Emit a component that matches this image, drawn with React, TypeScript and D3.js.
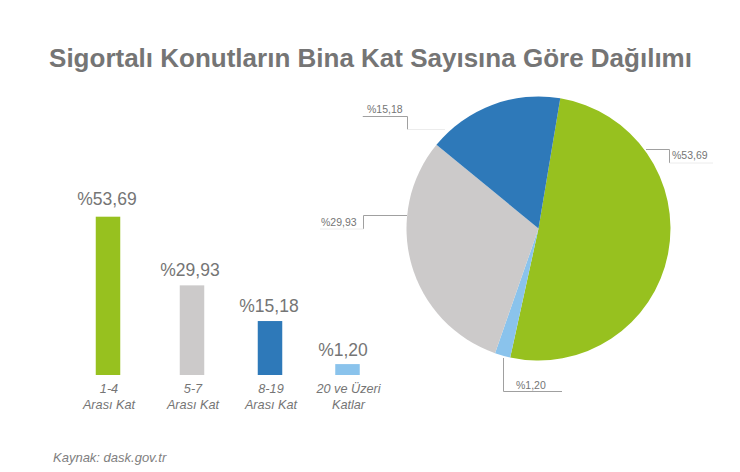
import React from "react";
import * as d3 from "d3";

const categories = ["1-4", "5-7", "8-19", "20 ve Üzeri"];
const categorySub = ["Arası Kat", "Arası Kat", "Arası Kat", "Katlar"];
const barLabels = ["%53,69", "%29,93", "%15,18", "%1,20"];
// the bars in the picture are not strictly to scale, so these are read off it
const barValues = [53.69, 30.4, 18.3, 3.7];
const barColors = ["#97c11f", "#cccaca", "#2e79b9", "#8ac3ec"];

// slice shares as drawn in the picture, clockwise from the green one
const pieNames = ["1-4", "20 ve Üzeri", "5-7", "8-19"];
const pieShares = [50.8, 1.9, 30.6, 16.7];
const pieColors = ["#97c11f", "#8ac3ec", "#cccaca", "#2e79b9"];

const width = 740;
const height = 472;
const font = "'Liberation Sans', Arial, sans-serif";
const textColor = "#757575";

const App: React.FC = () => {
  const x = d3
    .scaleOrdinal<string, number>()
    .domain(categories)
    .range([108, 192, 270, 347.5]);
  const y = d3.scaleLinear().domain([0, 53.69]).range([375, 216.7]);
  const barWidth = 24.5;
  const labelGap = [11.5, 9, 9, 8.5];

  const pie = d3
    .pie<number>()
    .sort(null)
    .startAngle((9.5 * Math.PI) / 180)
    .endAngle((369.5 * Math.PI) / 180);
  const arc = d3.arc<d3.PieArcDatum<number>>().innerRadius(0).outerRadius(132);
  const slices = pie(pieShares);

  const leader = "#a0a0a0";
  const faint = "#ececec";

  return (
    <svg
      width={width}
      height={height}
      style={{ position: "absolute", left: 0, top: 0, background: "#fff", fontFamily: font }}
    >
      <text x={370.5} y={67} textAnchor="middle" fontSize={26} fontWeight="bold" fill="#757575">
        Sigortalı Konutların Bina Kat Sayısına Göre Dağılımı
      </text>

      {categories.map((c, i) => (
        <g key={c}>
          <rect
            x={x(c) - barWidth / 2}
            y={y(barValues[i])}
            width={barWidth}
            height={y(0) - y(barValues[i])}
            fill={barColors[i]}
          />
          <text
            x={x(c) - (i === 3 ? 4.5 : i === 1 ? 2 : 1)}
            y={y(barValues[i]) - labelGap[i]}
            textAnchor="middle"
            fontSize={17.5}
            fill={textColor}
          >
            {barLabels[i]}
          </text>
          <text x={x(c) + 1} y={393} textAnchor="middle" fontSize={12.7} fontStyle="italic" fill={textColor}>
            {c}
          </text>
          <text x={x(c) + 1} y={409} textAnchor="middle" fontSize={12.7} fontStyle="italic" fill={textColor}>
            {categorySub[i]}
          </text>
        </g>
      ))}

      <g transform="translate(538.5,228.5)">
        {slices.map((s, i) => (
          <path key={pieNames[i]} d={arc(s) as string} fill={pieColors[i]} />
        ))}
      </g>

      <g fill="none" strokeWidth={1}>
        <path d="M363 116V116.5H407.5V129.5" stroke={leader} />
        <path d="M407.5 129.5H445" stroke={faint} />
        <path d="M646 149.5H669.5V163" stroke={leader} />
        <path d="M669.5 163H713" stroke={faint} />
        <path d="M407 215.5H363.5V229" stroke={leader} />
        <path d="M363.5 229H320" stroke={faint} />
        <path d="M503.5 358V391.5H562" stroke={leader} />
      </g>

      <g fontSize={10.5} fill={textColor}>
        <text x={367} y={113}>%15,18</text>
        <text x={672} y={159}>%53,69</text>
        <text x={321} y={226}>%29,93</text>
        <text x={516} y={389}>%1,20</text>
      </g>

      <text x={53} y={462} fontSize={13} fontStyle="italic" fill="#808080">
        Kaynak: dask.gov.tr
      </text>
    </svg>
  );
};

export default App;
